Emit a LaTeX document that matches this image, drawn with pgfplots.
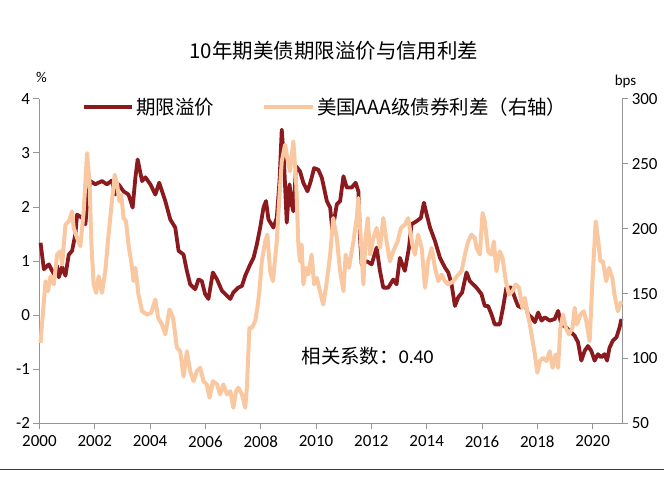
\documentclass[border=0pt]{standalone}
\usepackage{pgfplots}
\pgfplotsset{compat=1.18}
\usepackage{fontspec}
\setmainfont{Carlito}
\newfontfamily\cjk{Noto Sans CJK SC}
\definecolor{dk}{RGB}{138,26,30}
\definecolor{pc}{RGB}{250,200,160}
\definecolor{ax}{RGB}{150,150,150}
\begin{document}
\begin{tikzpicture}
\path (0pt,0pt) rectangle (664pt,481pt);
\pgfplotsset{
  common/.style={
    width=583.7pt, height=325pt, scale only axis,
    at={(39pt,57pt)}, anchor=south west,
    xmin=2000, xmax=2021.07,
    axis line style={ax, line width=1pt},
    tick style={ax, line width=1pt},
    tick align=outside, major tick length=6pt,
    /pgf/number format/assume math mode=true,
    ticklabel style={font=\fontsize{17}{17}\selectfont},
    clip=false,
  }
}
% left axis: term premium
\begin{axis}[common,
  ymin=-2, ymax=4, ytick={-2,-1,0,1,2,3,4},
  xtick={2000,2002,...,2020},
  x tick label style={/pgf/number format/1000 sep={}, yshift=-3pt},
  axis y line*=left, axis x line*=bottom,
]
\addplot[dk, line width=3.8pt, line join=round] coordinates {
(2000.04,1.34)(2000.16,0.85)(2000.34,0.94)(2000.52,0.76)(2000.64,0.91)(2000.70,0.70)(2000.82,0.89)(2000.94,0.73)
(2001.06,1.12)(2001.18,1.19)(2001.30,1.50)(2001.36,1.86)(2001.54,1.80)(2001.66,1.68)(2001.76,2.23)(2001.84,2.48)
(2002.02,2.42)(2002.26,2.48)(2002.44,2.42)(2002.62,2.49)(2002.74,2.23)(2002.86,2.42)(2003.04,2.29)(2003.22,2.23)
(2003.37,1.99)(2003.47,2.55)(2003.55,2.88)(2003.71,2.48)(2003.83,2.55)(2004.01,2.42)(2004.19,2.23)(2004.33,2.45)
(2004.55,2.11)(2004.73,1.77)(2004.91,1.62)(2005.03,1.19)(2005.21,1.12)(2005.33,0.82)(2005.45,0.57)(2005.63,0.48)
(2005.75,0.66)(2005.87,0.63)(2005.99,0.39)(2006.11,0.30)(2006.27,0.79)(2006.42,0.66)(2006.60,0.45)(2006.78,0.36)
(2006.90,0.30)(2007.01,0.42)(2007.19,0.51)(2007.32,0.54)(2007.44,0.73)(2007.62,0.94)(2007.74,1.06)(2007.86,1.31)
(2007.98,1.62)(2008.10,1.99)(2008.19,2.11)(2008.28,1.77)(2008.46,1.62)(2008.58,1.80)(2008.68,2.48)(2008.76,3.43)
(2008.84,2.85)(2008.94,1.71)(2009.04,2.42)(2009.12,2.05)(2009.18,1.92)(2009.28,2.75)(2009.42,2.66)(2009.54,2.45)
(2009.69,2.29)(2009.81,2.48)(2009.93,2.72)(2010.08,2.69)(2010.21,2.54)(2010.39,2.11)(2010.51,1.99)(2010.59,1.56)
(2010.75,2.05)(2010.87,2.11)(2010.99,2.57)(2011.11,2.36)(2011.29,2.36)(2011.43,2.45)(2011.53,2.29)(2011.59,1.43)
(2011.65,0.94)(2011.83,1.00)(2012.01,0.94)(2012.19,1.25)(2012.31,0.82)(2012.43,0.51)(2012.61,0.51)(2012.79,0.66)
(2012.91,0.57)(2013.03,1.06)(2013.21,0.82)(2013.36,1.25)(2013.45,1.68)(2013.64,1.74)(2013.79,1.80)(2013.90,2.08)
(2014.00,1.86)(2014.12,1.62)(2014.30,1.37)(2014.48,1.06)(2014.66,0.88)(2014.78,0.79)(2014.90,0.57)(2015.02,0.17)
(2015.14,0.33)(2015.28,0.42)(2015.44,0.79)(2015.56,0.63)(2015.80,0.51)(2015.98,0.39)(2016.10,0.17)(2016.22,0.17)
(2016.34,0.02)(2016.46,-0.17)(2016.64,-0.17)(2016.76,0.14)(2016.88,0.51)(2017.06,0.51)(2017.18,0.33)(2017.30,0.17)
(2017.43,0.14)(2017.55,0.23)(2017.66,0.02)(2017.79,-0.04)(2017.91,-0.13)(2018.03,0.05)(2018.15,-0.10)(2018.27,-0.04)
(2018.45,-0.10)(2018.63,-0.07)(2018.75,0.08)(2018.87,-0.17)(2019.05,-0.23)(2019.17,-0.29)(2019.35,-0.38)(2019.47,-0.50)
(2019.59,-0.84)(2019.71,-0.66)(2019.83,-0.57)(2019.95,-0.66)(2020.07,-0.84)(2020.19,-0.72)(2020.31,-0.78)(2020.43,-0.72)
(2020.52,-0.84)(2020.61,-0.60)(2020.73,-0.47)(2020.86,-0.41)(2020.97,-0.23)(2021.04,-0.07)
};
\end{axis}
% right axis: AAA spread
\begin{axis}[common,
  ymin=50, ymax=300, ytick={50,100,...,300},
  axis y line*=right, axis x line=none,
  legend style={at={(0.072,0.975)}, anchor=west, draw=none, fill=none,
    inner sep=0pt, legend columns=2,
    /tikz/every even column/.append style={column sep=46pt},
    font=\cjk\fontsize{19.5}{19.5}\selectfont},
  legend image code/.code={\draw[#1] (0pt,0pt) -- (49pt,0pt);},
]
\addlegendimage{dk, line width=3.8pt}
\addlegendentry{期限溢价}
\addplot[pc, line width=4pt, line join=round] coordinates {
(2000.04,112)(2000.16,144)(2000.22,159.5)(2000.31,151.8)(2000.40,163.3)(2000.52,157)(2000.64,180)(2000.76,182.5)
(2000.82,172.3)(2000.94,203)(2001.06,205.6)(2001.18,213.3)(2001.24,200.5)(2001.36,192.8)(2001.48,186.4)(2001.60,213.3)
(2001.72,258.2)(2001.81,236.4)(2001.88,187.7)(2001.96,157)(2002.05,150.5)(2002.14,163.3)(2002.26,150.5)(2002.38,167.2)
(2002.50,195.4)(2002.62,221)(2002.72,241.5)(2002.81,233.8)(2002.89,221)(2002.96,226)(2003.04,208.2)(2003.13,205.6)
(2003.22,187.7)(2003.35,169.8)(2003.40,159.5)(2003.47,169.8)(2003.58,149.2)(2003.71,136.4)(2003.89,133.8)(2004.04,135.2)
(2004.19,145.4)(2004.29,131.3)(2004.43,126.1)(2004.55,118.5)(2004.70,137.7)(2004.83,131.3)(2004.97,108.2)(2005.09,105.6)
(2005.21,86)(2005.33,105.6)(2005.45,90.2)(2005.57,82.5)(2005.69,90.2)(2005.81,92.8)(2005.93,82.5)(2006.05,80)
(2006.15,69.8)(2006.27,82.5)(2006.42,80)(2006.53,72.3)(2006.65,80)(2006.78,72.3)(2006.90,74.8)(2007.01,62)
(2007.11,74.8)(2007.19,77.5)(2007.32,72.3)(2007.44,62)(2007.50,77.5)(2007.59,123.6)(2007.68,123.6)(2007.80,128.7)
(2007.88,139)(2007.95,151.8)(2008.04,174.8)(2008.16,190.2)(2008.24,195.4)(2008.34,167.2)(2008.44,159.5)(2008.58,190.2)
(2008.68,226.2)(2008.76,251.8)(2008.88,264.6)(2008.96,254.4)(2009.06,244.1)(2009.18,267.2)(2009.28,236.4)(2009.36,187.7)
(2009.42,174.8)(2009.48,187.7)(2009.54,157)(2009.64,169.8)(2009.72,164.6)(2009.84,180)(2009.93,157)(2010.03,162.1)
(2010.14,151.8)(2010.26,141.5)(2010.39,159.5)(2010.51,180)(2010.62,208.2)(2010.75,192.8)(2010.87,167.2)(2010.99,151.8)
(2011.07,180)(2011.19,169.8)(2011.35,190.2)(2011.47,208.2)(2011.53,223.6)(2011.63,187.7)(2011.71,157)(2011.79,192.8)
(2011.87,208.2)(2011.95,180)(2012.07,192.8)(2012.19,200.5)(2012.31,185.1)(2012.43,208.2)(2012.55,190.2)(2012.67,174.8)
(2012.79,182.5)(2012.95,190.2)(2013.07,200.5)(2013.21,203)(2013.33,208.2)(2013.48,187.7)(2013.57,180)(2013.69,195.4)
(2013.82,185.1)(2013.94,154.4)(2014.05,174.8)(2014.18,185.1)(2014.30,169.8)(2014.42,159.5)(2014.54,164.6)(2014.66,159.5)
(2014.78,157)(2014.96,159.5)(2015.14,164.6)(2015.26,167.2)(2015.38,180)(2015.50,190.2)(2015.62,195.4)(2015.74,192.8)
(2015.80,185.1)(2015.92,180)(2016.02,212.1)(2016.10,205.6)(2016.22,182.5)(2016.34,180)(2016.43,190.2)(2016.52,167.2)
(2016.64,182.5)(2016.74,177.4)(2016.86,159.5)(2016.98,149.2)(2017.10,151.8)(2017.22,157)(2017.34,154.4)(2017.46,139)
(2017.55,146.7)(2017.63,136.4)(2017.73,126.1)(2017.79,118.5)(2017.91,103.1)(2018.00,89)(2018.09,98)(2018.21,100.5)
(2018.33,98)(2018.45,105.6)(2018.55,92.8)(2018.66,103.1)(2018.75,92.8)(2018.83,123.6)(2018.93,133.8)(2019.03,123.6)
(2019.14,118.5)(2019.27,123.6)(2019.35,139)(2019.43,126.1)(2019.56,133.8)(2019.68,136.4)(2019.77,128.7)(2019.89,113.3)
(2019.99,159.5)(2020.11,205.6)(2020.19,192.8)(2020.28,174.8)(2020.37,174.8)(2020.49,159.5)(2020.59,169.8)(2020.71,162.1)
(2020.79,149.2)(2020.91,136.4)(2021.04,144.1)
};
\addlegendentry{美国AAA级债券利差（右轴）}
\end{axis}
% texts
\node[font=\cjk\fontsize{20.5}{20.5}\selectfont] at (334pt,430pt) {10年期美债期限溢价与信用利差};
\node[font=\fontsize{15}{15}\selectfont] at (41pt,403pt) {\%};
\node[font=\fontsize{15}{15}\selectfont] at (626pt,399pt) {bps};
\node[anchor=west, font=\fontsize{19.5}{19.5}\selectfont] at (298pt,124pt) {{\cjk 相关系数：}0.40};
\draw[dk, line width=1pt] (0pt,11pt) -- (664pt,11pt);
\end{tikzpicture}
\end{document}
